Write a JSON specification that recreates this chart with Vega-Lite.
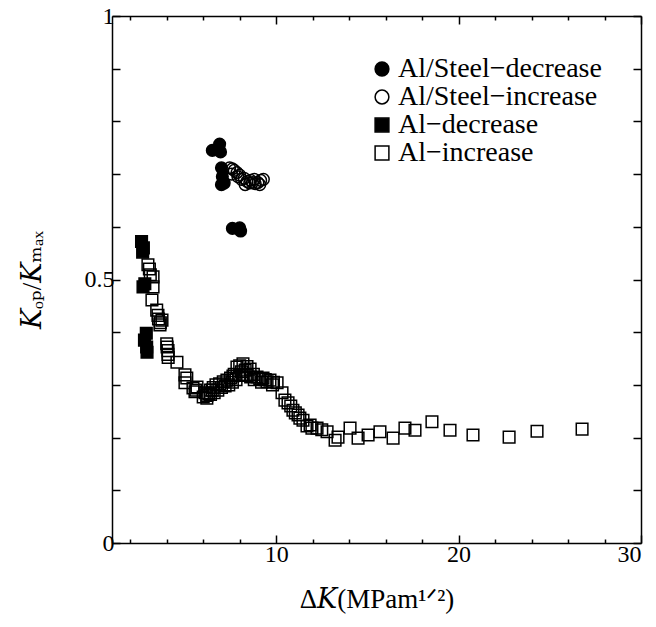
{
  "$schema": "https://vega.github.io/schema/vega-lite/v6.json",
  "width": 529,
  "height": 527,
  "autosize": {"type": "none"},
  "padding": {"left": 112, "top": 16, "right": 15, "bottom": 84},
  "background": "white",
  "config": {
    "view": {"stroke": null},
    "font": "Liberation Serif, Times New Roman, DejaVu Serif, serif",
    "axis": {"grid": false, "domainColor": "black", "domainWidth": 1.5, "tickColor": "black", "tickWidth": 1.5, "labelFont": "Liberation Serif, Times New Roman, DejaVu Serif, serif", "labelFontSize": 24, "labelColor": "black", "titleFont": "Liberation Serif, Times New Roman, DejaVu Serif, serif", "titleFontSize": 27, "titleFontWeight": "normal", "titleColor": "black"},
    "legend": {"labelFont": "Liberation Serif, Times New Roman, DejaVu Serif, serif", "labelFontSize": 28, "labelColor": "black", "labelLimit": 500}
  },
  "data": {"values": [
    {"series": "Al/Steel−decrease", "dk": 6.5, "kr": 0.745},
    {"series": "Al/Steel−decrease", "dk": 6.9, "kr": 0.757},
    {"series": "Al/Steel−decrease", "dk": 6.95, "kr": 0.742},
    {"series": "Al/Steel−decrease", "dk": 7.0, "kr": 0.712},
    {"series": "Al/Steel−decrease", "dk": 7.05, "kr": 0.695},
    {"series": "Al/Steel−decrease", "dk": 7.0, "kr": 0.68},
    {"series": "Al/Steel−decrease", "dk": 7.15, "kr": 0.683},
    {"series": "Al/Steel−decrease", "dk": 7.6, "kr": 0.597},
    {"series": "Al/Steel−decrease", "dk": 8.05, "kr": 0.592},
    {"series": "Al/Steel−decrease", "dk": 8.0, "kr": 0.598},
    {"series": "Al/Steel−increase", "dk": 7.45, "kr": 0.712},
    {"series": "Al/Steel−increase", "dk": 7.6, "kr": 0.71},
    {"series": "Al/Steel−increase", "dk": 7.7, "kr": 0.707},
    {"series": "Al/Steel−increase", "dk": 7.85, "kr": 0.703},
    {"series": "Al/Steel−increase", "dk": 8.0, "kr": 0.698},
    {"series": "Al/Steel−increase", "dk": 8.1, "kr": 0.69},
    {"series": "Al/Steel−increase", "dk": 8.25, "kr": 0.692},
    {"series": "Al/Steel−increase", "dk": 8.4, "kr": 0.686},
    {"series": "Al/Steel−increase", "dk": 8.55, "kr": 0.683},
    {"series": "Al/Steel−increase", "dk": 8.7, "kr": 0.684},
    {"series": "Al/Steel−increase", "dk": 8.85, "kr": 0.682},
    {"series": "Al/Steel−increase", "dk": 9.0, "kr": 0.684},
    {"series": "Al/Steel−increase", "dk": 9.15, "kr": 0.688},
    {"series": "Al/Steel−increase", "dk": 9.3, "kr": 0.69},
    {"series": "Al/Steel−increase", "dk": 7.9, "kr": 0.695},
    {"series": "Al/Steel−increase", "dk": 8.3, "kr": 0.68},
    {"series": "Al/Steel−increase", "dk": 8.6, "kr": 0.688},
    {"series": "Al/Steel−increase", "dk": 9.1, "kr": 0.68},
    {"series": "Al/Steel−increase", "dk": 7.55, "kr": 0.7},
    {"series": "Al/Steel−increase", "dk": 8.8, "kr": 0.69},
    {"series": "Al−decrease", "dk": 2.62, "kr": 0.572},
    {"series": "Al−decrease", "dk": 2.72, "kr": 0.56},
    {"series": "Al−decrease", "dk": 2.68, "kr": 0.552},
    {"series": "Al−decrease", "dk": 2.8, "kr": 0.492},
    {"series": "Al−decrease", "dk": 2.7, "kr": 0.486},
    {"series": "Al−decrease", "dk": 2.88, "kr": 0.398},
    {"series": "Al−decrease", "dk": 2.78, "kr": 0.385},
    {"series": "Al−decrease", "dk": 2.9, "kr": 0.372},
    {"series": "Al−decrease", "dk": 2.92, "kr": 0.362},
    {"series": "Al−increase", "dk": 2.97, "kr": 0.528},
    {"series": "Al−increase", "dk": 3.05, "kr": 0.52},
    {"series": "Al−increase", "dk": 3.1, "kr": 0.509},
    {"series": "Al−increase", "dk": 3.25, "kr": 0.505},
    {"series": "Al−increase", "dk": 3.25, "kr": 0.486},
    {"series": "Al−increase", "dk": 3.19, "kr": 0.461},
    {"series": "Al−increase", "dk": 3.45, "kr": 0.442},
    {"series": "Al−increase", "dk": 3.52, "kr": 0.432},
    {"series": "Al−increase", "dk": 3.55, "kr": 0.425},
    {"series": "Al−increase", "dk": 3.74, "kr": 0.423},
    {"series": "Al−increase", "dk": 3.63, "kr": 0.414},
    {"series": "Al−increase", "dk": 3.65, "kr": 0.418},
    {"series": "Al−increase", "dk": 4.0, "kr": 0.378},
    {"series": "Al−increase", "dk": 4.02, "kr": 0.372},
    {"series": "Al−increase", "dk": 4.07, "kr": 0.365},
    {"series": "Al−increase", "dk": 4.07, "kr": 0.358},
    {"series": "Al−increase", "dk": 4.08, "kr": 0.352},
    {"series": "Al−increase", "dk": 4.56, "kr": 0.343},
    {"series": "Al−increase", "dk": 5.0, "kr": 0.319},
    {"series": "Al−increase", "dk": 5.1, "kr": 0.313},
    {"series": "Al−increase", "dk": 5.0, "kr": 0.304},
    {"series": "Al−increase", "dk": 5.44, "kr": 0.294},
    {"series": "Al−increase", "dk": 5.6, "kr": 0.29},
    {"series": "Al−increase", "dk": 5.55, "kr": 0.287},
    {"series": "Al−increase", "dk": 5.66, "kr": 0.296},
    {"series": "Al−increase", "dk": 6.0, "kr": 0.277},
    {"series": "Al−increase", "dk": 6.2, "kr": 0.275},
    {"series": "Al−increase", "dk": 6.3, "kr": 0.283},
    {"series": "Al−increase", "dk": 6.4, "kr": 0.29},
    {"series": "Al−increase", "dk": 6.55, "kr": 0.295},
    {"series": "Al−increase", "dk": 6.7, "kr": 0.3},
    {"series": "Al−increase", "dk": 6.9, "kr": 0.302},
    {"series": "Al−increase", "dk": 7.1, "kr": 0.306},
    {"series": "Al−increase", "dk": 7.3, "kr": 0.309},
    {"series": "Al−increase", "dk": 7.5, "kr": 0.313},
    {"series": "Al−increase", "dk": 7.63, "kr": 0.317},
    {"series": "Al−increase", "dk": 7.85, "kr": 0.334},
    {"series": "Al−increase", "dk": 8.0, "kr": 0.336},
    {"series": "Al−increase", "dk": 8.18, "kr": 0.34},
    {"series": "Al−increase", "dk": 8.4, "kr": 0.335},
    {"series": "Al−increase", "dk": 8.57, "kr": 0.33},
    {"series": "Al−increase", "dk": 8.75, "kr": 0.32},
    {"series": "Al−increase", "dk": 8.95, "kr": 0.315},
    {"series": "Al−increase", "dk": 9.1, "kr": 0.312},
    {"series": "Al−increase", "dk": 9.28, "kr": 0.313},
    {"series": "Al−increase", "dk": 9.5, "kr": 0.306},
    {"series": "Al−increase", "dk": 9.66, "kr": 0.309},
    {"series": "Al−increase", "dk": 9.85, "kr": 0.305},
    {"series": "Al−increase", "dk": 10.05, "kr": 0.304},
    {"series": "Al−increase", "dk": 10.32, "kr": 0.285},
    {"series": "Al−increase", "dk": 10.48, "kr": 0.271},
    {"series": "Al−increase", "dk": 10.65, "kr": 0.266},
    {"series": "Al−increase", "dk": 10.8, "kr": 0.26},
    {"series": "Al−increase", "dk": 10.92, "kr": 0.252},
    {"series": "Al−increase", "dk": 11.05, "kr": 0.247},
    {"series": "Al−increase", "dk": 11.2, "kr": 0.243},
    {"series": "Al−increase", "dk": 11.3, "kr": 0.237},
    {"series": "Al−increase", "dk": 11.47, "kr": 0.233},
    {"series": "Al−increase", "dk": 11.69, "kr": 0.222},
    {"series": "Al−increase", "dk": 11.86, "kr": 0.224},
    {"series": "Al−increase", "dk": 11.96, "kr": 0.218},
    {"series": "Al−increase", "dk": 12.24, "kr": 0.218},
    {"series": "Al−increase", "dk": 12.5, "kr": 0.215},
    {"series": "Al−increase", "dk": 12.79, "kr": 0.211},
    {"series": "Al−increase", "dk": 13.23, "kr": 0.195},
    {"series": "Al−increase", "dk": 13.39, "kr": 0.201},
    {"series": "Al−increase", "dk": 14.05, "kr": 0.218},
    {"series": "Al−increase", "dk": 14.49, "kr": 0.199},
    {"series": "Al−increase", "dk": 15.04, "kr": 0.205},
    {"series": "Al−increase", "dk": 15.69, "kr": 0.211},
    {"series": "Al−increase", "dk": 16.41, "kr": 0.199},
    {"series": "Al−increase", "dk": 17.06, "kr": 0.218},
    {"series": "Al−increase", "dk": 17.61, "kr": 0.214},
    {"series": "Al−increase", "dk": 18.54, "kr": 0.23},
    {"series": "Al−increase", "dk": 19.53, "kr": 0.214},
    {"series": "Al−increase", "dk": 20.79, "kr": 0.205},
    {"series": "Al−increase", "dk": 22.77, "kr": 0.201},
    {"series": "Al−increase", "dk": 24.3, "kr": 0.212},
    {"series": "Al−increase", "dk": 26.77, "kr": 0.216},
    {"series": "Al−increase", "dk": 6.2, "kr": 0.28},
    {"series": "Al−increase", "dk": 6.4, "kr": 0.282},
    {"series": "Al−increase", "dk": 6.6, "kr": 0.285},
    {"series": "Al−increase", "dk": 6.8, "kr": 0.29},
    {"series": "Al−increase", "dk": 7.0, "kr": 0.295},
    {"series": "Al−increase", "dk": 7.2, "kr": 0.298},
    {"series": "Al−increase", "dk": 7.4, "kr": 0.3},
    {"series": "Al−increase", "dk": 7.6, "kr": 0.305},
    {"series": "Al−increase", "dk": 7.8, "kr": 0.31},
    {"series": "Al−increase", "dk": 8.0, "kr": 0.318},
    {"series": "Al−increase", "dk": 8.2, "kr": 0.32},
    {"series": "Al−increase", "dk": 8.4, "kr": 0.318},
    {"series": "Al−increase", "dk": 8.6, "kr": 0.315},
    {"series": "Al−increase", "dk": 8.8, "kr": 0.31},
    {"series": "Al−increase", "dk": 6.1, "kr": 0.285},
    {"series": "Al−increase", "dk": 6.5, "kr": 0.29},
    {"series": "Al−increase", "dk": 7.7, "kr": 0.32},
    {"series": "Al−increase", "dk": 8.1, "kr": 0.325},
    {"series": "Al−increase", "dk": 8.3, "kr": 0.328},
    {"series": "Al−increase", "dk": 9.2, "kr": 0.305},
    {"series": "Al−increase", "dk": 9.4, "kr": 0.31},
    {"series": "Al−increase", "dk": 9.8, "kr": 0.3}
  ]},
  "resolve": {"axis": {"x": "independent", "y": "independent"}},
  "layer": [
    {
      "mark": {"type": "point", "filled": true, "stroke": "black", "strokeWidth": 1.5, "size": 135, "opacity": 1},
      "encoding": {
        "x": {"field": "dk", "type": "quantitative", "scale": {"domain": [1, 30], "nice": false, "zero": false},
          "axis": {"orient": "bottom", "values": [2,4,6,8,10,12,14,16,18,20,22,24,26,28,30],
            "tickSize": {"condition": {"test": "datum.value % 10 === 0", "value": -8}, "value": -4},
            "labelExpr": "datum.value % 10 === 0 ? datum.label : ''", "labelPadding": 7,
            "title": "Δ𝐾(MPam¹ᐟ²)", "titlePadding": 20}},
        "y": {"field": "kr", "type": "quantitative", "scale": {"domain": [0, 1], "nice": false, "zero": false},
          "axis": {"orient": "left", "values": [0,0.1,0.2,0.3,0.4,0.5,0.6,0.7,0.8,0.9,1], "tickSize": -8,
            "labelExpr": "datum.value === 0 ? '0' : datum.value === 0.5 ? '0.5' : datum.value === 1 ? '1' : ''", "labelPadding": 6,
            "title": "𝐾ₒₚ/𝐾ₘₐₓ", "titlePadding": 38}},
        "shape": {"field": "series", "type": "nominal",
          "scale": {"domain": ["Al/Steel−decrease", "Al/Steel−increase", "Al−decrease", "Al−increase"], "range": ["circle", "circle", "square", "square"]},
          "legend": {"title": null, "orient": "none", "legendX": 256, "legendY": 39, "symbolSize": 190, "symbolStrokeWidth": 1.5, "rowPadding": 0, "labelOffset": 2, "padding": 0,
            "encode": {"symbols": {"update": {"stroke": {"value": "black"}, "strokeWidth": {"value": 1.5}}}}}},
        "fill": {"field": "series", "type": "nominal",
          "scale": {"domain": ["Al/Steel−decrease", "Al/Steel−increase", "Al−decrease", "Al−increase"], "range": ["black", "transparent", "black", "transparent"]},
          "legend": {"title": null, "orient": "none", "legendX": 256, "legendY": 39, "symbolSize": 190, "symbolStrokeWidth": 1.5, "rowPadding": 0, "labelOffset": 2, "padding": 0,
            "encode": {"symbols": {"update": {"stroke": {"value": "black"}, "strokeWidth": {"value": 1.5}}}}}}
      }
    },
    {
      "mark": {"type": "point", "opacity": 0},
      "encoding": {
        "x": {"field": "dk", "type": "quantitative",
          "axis": {"orient": "top", "values": [2,4,6,8,10,12,14,16,18,20,22,24,26,28,30],
            "tickSize": {"condition": {"test": "datum.value % 10 === 0", "value": -8}, "value": -4},
            "labels": false, "title": null}},
        "y": {"field": "kr", "type": "quantitative",
          "axis": {"orient": "right", "values": [0,0.1,0.2,0.3,0.4,0.5,0.6,0.7,0.8,0.9,1], "tickSize": -8, "labels": false, "title": null}}
      }
    }
  ]
}
